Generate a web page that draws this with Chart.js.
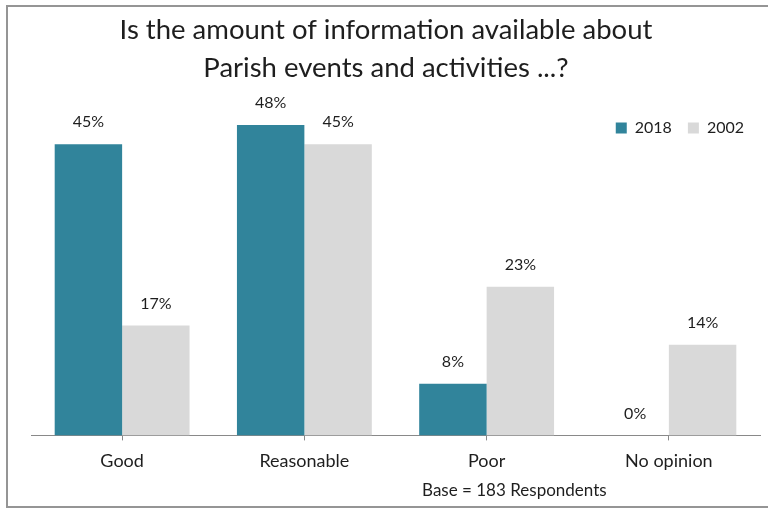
<!DOCTYPE html>
<html>
<head>
<meta charset="utf-8">
<script src="https://cdn.jsdelivr.net/npm/chart.js@4"></script>
<style>
  html, body { margin: 0; padding: 0; background: #fff; }
  #frame { position: absolute; left: 6px; top: 5px; width: 820px; height: 503px; border: 2px solid #959595; box-sizing: border-box; }
  #wrap { position: absolute; left: 0; top: 0; width: 768px; height: 509px; }
</style>
</head>
<body>
<div id="frame"></div>
<div id="wrap"><canvas id="myChart"></canvas></div>
<script>
const categories = ["Good", "Reasonable", "Poor", "No opinion"];
const values2018 = [45, 48, 8, 0];
const values2002 = [17, 45, 23, 14];
const seriesNames = ["2018", "2002"];
const titleLines = ["Is the amount of information available about", "Parish events and activities ...?"];
const footnote = "Base = 183 Respondents";

const TEXT = "#1e1e1e";
const FONT = "Lato";

// percentage above every bar
const valueLabels = {
  id: "valueLabels",
  afterDatasetsDraw(chart) {
    const ctx = chart.ctx;
    ctx.save();
    ctx.font = "16px " + FONT;
    ctx.fillStyle = TEXT;
    ctx.textAlign = "center";
    ctx.textBaseline = "middle";
    chart.data.datasets.forEach((ds, i) => {
      chart.getDatasetMeta(i).data.forEach((bar, j) => {
        ctx.fillText(ds.data[j] + "%", bar.x, bar.y - 22);
      });
    });
    ctx.restore();
  }
};

// legend sits inside the plot, top right
const legendInPlot = {
  id: "legendInPlot",
  afterLayout(chart) {
    const lg = chart.legend;
    const h = lg.bottom - lg.top;
    lg.top = chart.chartArea.top - 8;
    lg.bottom = lg.top + h;
  }
};

// base note under the axis
const baseNote = {
  id: "baseNote",
  afterDraw(chart) {
    const ctx = chart.ctx;
    const area = chart.chartArea;
    ctx.save();
    ctx.font = "17px " + FONT;
    ctx.fillStyle = TEXT;
    ctx.textAlign = "center";
    ctx.textBaseline = "middle";
    ctx.fillText(footnote, area.left + (area.right - area.left) * 0.663, 491);
    ctx.restore();
  }
};

document.addEventListener("DOMContentLoaded", () => {
  const ctx = document.getElementById("myChart");
  new Chart(ctx, {
    type: "bar",
    data: {
      labels: categories,
      datasets: [
        {
          label: seriesNames[0],
          data: values2018,
          backgroundColor: "#31849b",
          categoryPercentage: 0.74,
          barPercentage: 1.0,
        },
        {
          label: seriesNames[1],
          data: values2002,
          backgroundColor: "#d9d9d9",
          categoryPercentage: 0.74,
          barPercentage: 1.0,
        },
      ],
    },
    options: {
      responsive: true,
      maintainAspectRatio: false,
      animation: false,
      layout: { padding: { left: 12, right: 8, top: 0, bottom: 27 } },
      plugins: {
        title: {
          display: true,
          text: titleLines,
          color: TEXT,
          font: { family: FONT, size: 27.5, weight: "normal", lineHeight: "38px" },
          padding: { top: 11, bottom: -17 },
        },
        legend: {
          position: "top",
          align: "end",
          labels: {
            boxWidth: 11,
            boxHeight: 11,
            padding: 16,
            color: TEXT,
            font: { family: FONT, size: 16 },
          },
        },
        tooltip: { enabled: false },
      },
      scales: {
        x: {
          grid: {
            offset: false,
            drawOnChartArea: false,
            drawTicks: true,
            tickLength: 5,
            color: "#898989",
          },
          border: { color: "#898989", width: 1 },
          ticks: { color: TEXT, padding: 10, font: { family: FONT, size: 18 } },
        },
        y: {
          min: 0,
          max: 50,
          grid: { display: false },
          border: { display: false },
          ticks: { display: false },
          afterFit(scale) { scale.width = 19; },
        },
      },
    },
    plugins: [valueLabels, legendInPlot, baseNote],
  });
});
</script>
</body>
</html>
